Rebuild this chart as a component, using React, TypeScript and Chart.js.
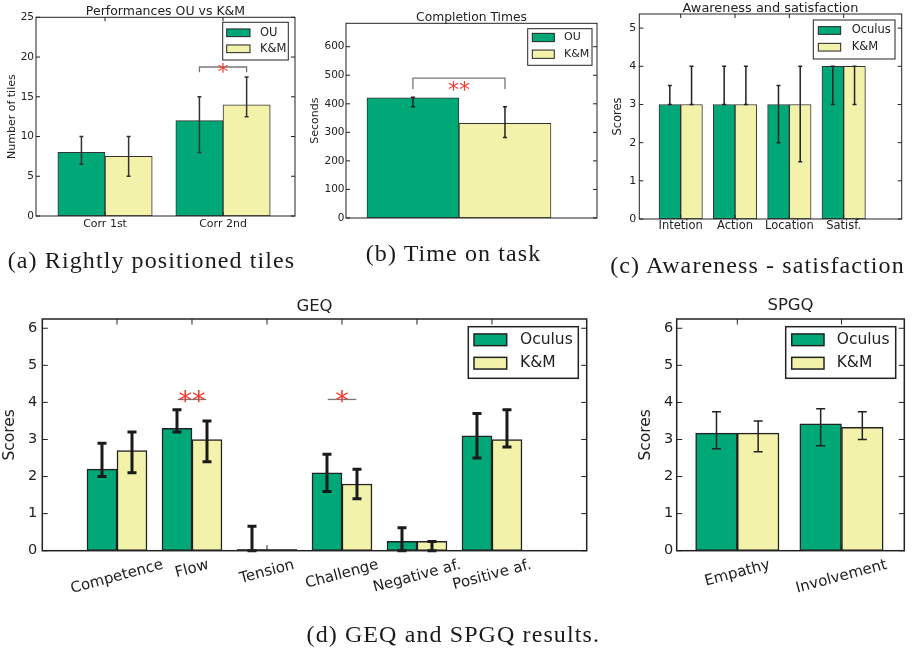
import React, { useEffect, useRef } from "react";
import { Chart, registerables } from "chart.js";
Chart.register(...registerables);

// ---------------- DATA ----------------
// (a) Rightly positioned tiles
const tilesCategories = ["Corr 1st", "Corr 2nd"];
const tilesOU = [8, 12];
const tilesOULow = [6.5, 8];
const tilesOUHigh = [10, 15];
const tilesKM = [7.5, 14];
const tilesKMLow = [5, 12.5];
const tilesKMHigh = [10, 17.5];
const tilesYTicks = [0, 5, 10, 15, 20, 25];

// (b) Time on task
const timeCategories = [""];
const timeOU = [421];
const timeOULow = [390];
const timeOUHigh = [423];
const timeKM = [332];
const timeKMLow = [282];
const timeKMHigh = [390];
const timeYTicks = [0, 100, 200, 300, 400, 500, 600];

// (c) Awareness - satisfaction
const awareCategories = ["Intetion", "Action", "Location", "Satisf."];
const awareOculus = [3, 3, 3, 4];
const awareOculusLow = [3, 3, 2, 3];
const awareOculusHigh = [3.5, 4, 3.5, 4];
const awareKM = [3, 3, 3, 4];
const awareKMLow = [3, 3, 1.5, 3];
const awareKMHigh = [4, 4, 4, 4];
const awareYTicks = [0, 1, 2, 3, 4, 5];

// (d) GEQ
const geqCategories = ["Competence", "Flow", "Tension", "Challenge", "Negative af.", "Positive af."];
const geqOculus = [2.2, 3.3, 0, 2.1, 0.25, 3.1];
const geqOculusLow = [2.0, 3.2, 0, 1.6, 0, 2.5];
const geqOculusHigh = [2.9, 3.8, 0.66, 2.6, 0.62, 3.7];
const geqKM = [2.7, 3.0, 0, 1.8, 0.25, 3.0];
const geqKMLow = [2.1, 2.4, 0, 1.4, 0, 2.8];
const geqKMHigh = [3.2, 3.5, 0, 2.2, 0.25, 3.8];
const scoreYTicks = [0, 1, 2, 3, 4, 5, 6];

// (d) SPGQ
const spgqCategories = ["Empathy", "Involvement"];
const spgqOculus = [3.17, 3.42];
const spgqOculusLow = [2.75, 2.83];
const spgqOculusHigh = [3.75, 3.83];
const spgqKM = [3.17, 3.33];
const spgqKMLow = [2.67, 3.0];
const spgqKMHigh = [3.5, 3.75];

const captionTexts = [
  "(a) Rightly positioned tiles",
  "(b) Time on task",
  "(c) Awareness - satisfaction",
  "(d) GEQ and SPGQ results.",
];

// ---------------- STYLE / LAYOUT ----------------
const W = 913;
const H = 654;
const GREEN = "#00a878";
const YELLOW = "#f2f2aa";
const FONT = '"DejaVu Sans", "Bitstream Vera Sans", sans-serif';
const TXT = "#222";
const SIG_RED = "#f03c32";

type Series = { label: string; values: number[]; low: number[]; high: number[]; color: string };
type Sig = { cat: number; text: string; lineY: number; dropY?: number; textY: number; half: number };
type Spec = {
  key: string;
  area: [number, number, number, number];
  categories: string[];
  series: Series[];
  xRange: [number, number];
  barWidth: number;
  yMax: number;
  yTicks: number[];
  title: string;
  titleSize: number;
  titleBaseline: number;
  yTitle: string;
  yTitleSize: number;
  yTitleX: number;
  tickSize: number;
  tickPad: number;
  xLabelSize: number;
  xLabelRotation: number;
  xLabelOffset: number;
  xTicks: boolean;
  tickLen: number;
  frameWidth: number;
  barBorder: number;
  barBorderColor: string;
  err: { width: number; cap: number; color: string };
  legend: { box: [number, number, number, number]; swatch: [number, number]; swatchH: number; rows: number[]; textX: number; size: number; lineWidth: number };
  sigs: Sig[];
  sigSize: number;
};

const specs: Spec[] = [
  {
    key: "a",
    area: [36, 17.3, 295, 216],
    categories: tilesCategories,
    series: [
      { label: "OU", values: tilesOU, low: tilesOULow, high: tilesOUHigh, color: GREEN },
      { label: "K&M", values: tilesKM, low: tilesKMLow, high: tilesKMHigh, color: YELLOW },
    ],
    xRange: [-0.585, 1.61],
    barWidth: 0.4,
    yMax: 25,
    yTicks: tilesYTicks,
    title: "Performances OU vs K&M",
    titleSize: 12.5,
    titleBaseline: 14.5,
    yTitle: "Number of tiles",
    yTitleSize: 11,
    yTitleX: 12,
    tickSize: 10.5,
    tickPad: 2,
    xLabelSize: 11,
    xLabelRotation: 0,
    xLabelOffset: 8,
    xTicks: true,
    tickLen: 4,
    frameWidth: 1,
    barBorder: 1,
    barBorderColor: "#333",
    err: { width: 1.5, cap: 4, color: "#333" },
    legend: { box: [222.7, 22.3, 288.3, 60], swatch: [226.7, 250], swatchH: 7.7, rows: [32.8, 48.8], textX: 260, size: 11.5, lineWidth: 1 },
    sigs: [{ cat: 1, text: "*", lineY: 18.75, dropY: 18.1, textY: 18.7, half: 0.2 }],
    sigSize: 22,
  },
  {
    key: "b",
    area: [346, 23.3, 597, 218],
    categories: timeCategories,
    series: [
      { label: "OU", values: timeOU, low: timeOULow, high: timeOUHigh, color: GREEN },
      { label: "K&M", values: timeKM, low: timeKMLow, high: timeKMHigh, color: YELLOW },
    ],
    xRange: [-0.491, 0.6],
    barWidth: 0.4,
    yMax: 682,
    yTicks: timeYTicks,
    title: "Completion Times",
    titleSize: 12.3,
    titleBaseline: 20.7,
    yTitle: "Seconds",
    yTitleSize: 11,
    yTitleX: 315,
    tickSize: 10.5,
    tickPad: 1.5,
    xLabelSize: 11,
    xLabelRotation: 0,
    xLabelOffset: 8,
    xTicks: false,
    tickLen: 4,
    frameWidth: 1,
    barBorder: 1,
    barBorderColor: "#333",
    err: { width: 1.5, cap: 4, color: "#222" },
    legend: { box: [527.7, 28.7, 592, 65.3], swatch: [532.3, 554.3], swatchH: 8.3, rows: [37.5, 54.2], textX: 564, size: 11, lineWidth: 1 },
    sigs: [{ cat: 0, text: "**", lineY: 490, dropY: 452, textY: 467, half: 0.2 }],
    sigSize: 22,
  },
  {
    key: "c",
    area: [639.3, 14, 901.7, 219],
    categories: awareCategories,
    series: [
      { label: "Oculus", values: awareOculus, low: awareOculusLow, high: awareOculusHigh, color: GREEN },
      { label: "K&M", values: awareKM, low: awareKMLow, high: awareKMHigh, color: YELLOW },
    ],
    xRange: [-0.762, 4.068],
    barWidth: 0.4,
    yMax: 5.37,
    yTicks: awareYTicks,
    title: "Awareness and satisfaction",
    titleSize: 12.9,
    titleBaseline: 11.7,
    yTitle: "Scores",
    yTitleSize: 11.5,
    yTitleX: 618,
    tickSize: 11,
    tickPad: 3,
    xLabelSize: 11.5,
    xLabelRotation: 0,
    xLabelOffset: 7,
    xTicks: true,
    tickLen: 4,
    frameWidth: 1,
    barBorder: 1,
    barBorderColor: "#333",
    err: { width: 1.5, cap: 4, color: "#222" },
    legend: { box: [813.3, 20, 895, 59], swatch: [818.3, 840.7], swatchH: 7.7, rows: [30.5, 47.2], textX: 851.7, size: 11.5, lineWidth: 1 },
    sigs: [],
    sigSize: 22,
  },
  {
    key: "geq",
    area: [42.3, 319, 586.7, 550.7],
    categories: geqCategories,
    series: [
      { label: "Oculus", values: geqOculus, low: geqOculusLow, high: geqOculusHigh, color: GREEN },
      { label: "K&M", values: geqKM, low: geqKMLow, high: geqKMHigh, color: YELLOW },
    ],
    xRange: [-0.996, 6.263],
    barWidth: 0.4,
    yMax: 6.25,
    yTicks: scoreYTicks,
    title: "GEQ",
    titleSize: 16.5,
    titleBaseline: 311,
    yTitle: "Scores",
    yTitleSize: 15.5,
    yTitleX: 10.3,
    tickSize: 14.5,
    tickPad: 5,
    xLabelSize: 15,
    xLabelRotation: 15,
    xLabelOffset: 5.5,
    xTicks: true,
    tickLen: 5.5,
    frameWidth: 1.5,
    barBorder: 1.5,
    barBorderColor: "#222",
    err: { width: 3, cap: 9, color: "#1a1a1a" },
    legend: { box: [468.3, 326.7, 578.3, 378.3], swatch: [474, 506.7], swatchH: 11.7, rows: [339.8, 363.2], textX: 520, size: 15.5, lineWidth: 1.5 },
    sigs: [
      { cat: 1, text: "**", lineY: 4.08, textY: 4.2, half: 0.19 },
      { cat: 3, text: "*", lineY: 4.08, textY: 4.2, half: 0.19 },
    ],
    sigSize: 27,
  },
  {
    key: "spgq",
    area: [676.7, 319, 904.3, 550.7],
    categories: spgqCategories,
    series: [
      { label: "Oculus", values: spgqOculus, low: spgqOculusLow, high: spgqOculusHigh, color: GREEN },
      { label: "K&M", values: spgqKM, low: spgqKMLow, high: spgqKMHigh, color: YELLOW },
    ],
    xRange: [-0.582, 1.603],
    barWidth: 0.4,
    yMax: 6.25,
    yTicks: scoreYTicks,
    title: "SPGQ",
    titleSize: 16.5,
    titleBaseline: 310,
    yTitle: "Scores",
    yTitleSize: 15.5,
    yTitleX: 646,
    tickSize: 14.5,
    tickPad: 3.5,
    xLabelSize: 15,
    xLabelRotation: 15,
    xLabelOffset: 5.5,
    xTicks: true,
    tickLen: 5.5,
    frameWidth: 1.5,
    barBorder: 1.5,
    barBorderColor: "#222",
    err: { width: 1.5, cap: 9, color: "#222" },
    legend: { box: [785.7, 326.7, 895.7, 378.3], swatch: [791.7, 824], swatchH: 11.7, rows: [339.8, 363.2], textX: 836.7, size: 15.5, lineWidth: 1.5 },
    sigs: [],
    sigSize: 22,
  },
];

const captionLayout = [
  { cx: 151.5, baseline: 268 },
  { cx: 453.5, baseline: 261 },
  { cx: 757.5, baseline: 273 },
  { cx: 453.3, baseline: 642 },
];
const CAPTION_SIZE = 24;

// ---------------- DRAWING ----------------
function seriesOffset(spec: Spec, si: number) {
  return (si === 0 ? -1 : 1) * spec.barWidth / 2;
}

function makePlugin(spec: Spec) {
  return {
    id: "custom_" + spec.key,
    afterDatasetsDraw(chart: any) {
      const { ctx } = chart;
      const xs = chart.scales.x;
      const ys = chart.scales.y;
      ctx.save();
      ctx.strokeStyle = spec.err.color;
      ctx.lineWidth = spec.err.width;
      spec.series.forEach((s, si) => {
        const off = seriesOffset(spec, si);
        s.values.forEach((_v, i) => {
          const lo = s.low[i];
          const hi = s.high[i];
          if (!(hi > lo)) return;
          const x = xs.getPixelForValue(i + off);
          const y1 = ys.getPixelForValue(lo);
          const y2 = ys.getPixelForValue(hi);
          const c = spec.err.cap / 2;
          ctx.beginPath();
          ctx.moveTo(x, y1);
          ctx.lineTo(x, y2);
          ctx.moveTo(x - c, y1);
          ctx.lineTo(x + c, y1);
          ctx.moveTo(x - c, y2);
          ctx.lineTo(x + c, y2);
          ctx.stroke();
        });
      });
      ctx.restore();
    },
    afterDraw(chart: any) {
      const { ctx } = chart;
      const a = chart.chartArea;
      const xs = chart.scales.x;
      const ys = chart.scales.y;
      ctx.save();
      // zero-height bars still show their outline along the axis
      ctx.strokeStyle = spec.barBorderColor;
      ctx.lineWidth = spec.barBorder;
      spec.series.forEach((s, si) => {
        const off = seriesOffset(spec, si);
        s.values.forEach((v, i) => {
          if (v !== 0) return;
          const x1 = xs.getPixelForValue(i + off - spec.barWidth / 2);
          const x2 = xs.getPixelForValue(i + off + spec.barWidth / 2);
          const y = ys.getPixelForValue(0) - spec.barBorder / 2;
          ctx.beginPath();
          ctx.moveTo(x1, y);
          ctx.lineTo(x2, y);
          ctx.stroke();
        });
      });
      // frame
      ctx.strokeStyle = "#222";
      ctx.lineWidth = spec.frameWidth;
      ctx.strokeRect(a.left, a.top, a.right - a.left, a.bottom - a.top);
      // ticks (inward)
      ctx.lineWidth = 1;
      ctx.beginPath();
      spec.yTicks.forEach((v) => {
        const y = ys.getPixelForValue(v);
        ctx.moveTo(a.left, y);
        ctx.lineTo(a.left + spec.tickLen, y);
        ctx.moveTo(a.right, y);
        ctx.lineTo(a.right - spec.tickLen, y);
      });
      if (spec.xTicks) {
        spec.categories.forEach((_c, i) => {
          const x = xs.getPixelForValue(i);
          ctx.moveTo(x, a.top);
          ctx.lineTo(x, a.top + spec.tickLen);
          ctx.moveTo(x, a.bottom);
          ctx.lineTo(x, a.bottom - spec.tickLen);
        });
      }
      ctx.stroke();

      // x labels
      ctx.fillStyle = TXT;
      ctx.font = `${spec.xLabelSize}px ${FONT}`;
      spec.categories.forEach((c, i) => {
        if (!c) return;
        const x = xs.getPixelForValue(i);
        if (spec.xLabelRotation === 0) {
          ctx.textAlign = "center";
          ctx.textBaseline = "middle";
          ctx.fillText(c, x, a.bottom + spec.xLabelOffset);
        } else {
          const th = (spec.xLabelRotation * Math.PI) / 180;
          const w = ctx.measureText(c).width;
          const h = spec.xLabelSize * 1.17;
          const bh = w * Math.sin(th) + h * Math.cos(th);
          ctx.save();
          ctx.translate(x, a.bottom + spec.xLabelOffset + bh / 2);
          ctx.rotate(-th);
          ctx.textAlign = "center";
          ctx.textBaseline = "middle";
          ctx.fillText(c, 0, 0);
          ctx.restore();
        }
      });

      // title
      ctx.font = `${spec.titleSize}px ${FONT}`;
      ctx.textAlign = "center";
      ctx.textBaseline = "alphabetic";
      ctx.fillText(spec.title, (a.left + a.right) / 2, spec.titleBaseline);

      // y title
      ctx.save();
      ctx.font = `${spec.yTitleSize}px ${FONT}`;
      ctx.translate(spec.yTitleX, (a.top + a.bottom) / 2);
      ctx.rotate(-Math.PI / 2);
      ctx.textAlign = "center";
      ctx.textBaseline = "middle";
      ctx.fillText(spec.yTitle, 0, 0);
      ctx.restore();

      // significance markers
      spec.sigs.forEach((s) => {
        const x1 = xs.getPixelForValue(s.cat - s.half);
        const x2 = xs.getPixelForValue(s.cat + s.half);
        const yl = ys.getPixelForValue(s.lineY);
        ctx.strokeStyle = "#777";
        ctx.lineWidth = 1.3;
        ctx.beginPath();
        if (s.dropY !== undefined) {
          const yd = ys.getPixelForValue(s.dropY);
          ctx.moveTo(x1, yd);
          ctx.lineTo(x1, yl);
          ctx.lineTo(x2, yl);
          ctx.lineTo(x2, yd);
        } else {
          ctx.moveTo(x1, yl);
          ctx.lineTo(x2, yl);
        }
        ctx.stroke();
        ctx.fillStyle = SIG_RED;
        ctx.font = `${spec.sigSize}px ${FONT}`;
        ctx.textAlign = "center";
        ctx.textBaseline = "alphabetic";
        ctx.fillText(s.text, (x1 + x2) / 2, ys.getPixelForValue(s.textY) + spec.sigSize * 0.55);
      });

      // legend
      const L = spec.legend;
      ctx.fillStyle = "#fff";
      ctx.fillRect(L.box[0], L.box[1], L.box[2] - L.box[0], L.box[3] - L.box[1]);
      ctx.strokeStyle = "#222";
      ctx.lineWidth = L.lineWidth;
      ctx.strokeRect(L.box[0], L.box[1], L.box[2] - L.box[0], L.box[3] - L.box[1]);
      spec.series.forEach((s, si) => {
        const cy = L.rows[si];
        ctx.fillStyle = s.color;
        ctx.fillRect(L.swatch[0], cy - L.swatchH / 2, L.swatch[1] - L.swatch[0], L.swatchH);
        ctx.strokeStyle = "#222";
        ctx.lineWidth = L.lineWidth;
        ctx.strokeRect(L.swatch[0], cy - L.swatchH / 2, L.swatch[1] - L.swatch[0], L.swatchH);
        ctx.fillStyle = TXT;
        ctx.font = `${L.size}px ${FONT}`;
        ctx.textAlign = "left";
        ctx.textBaseline = "middle";
        ctx.fillText(s.label, L.textX, cy);
      });
      ctx.restore();
    },
  };
}

function buildConfig(spec: Spec): any {
  const [aL, aT, aR, aB] = spec.area;
  return {
    type: "bar",
    data: {
      datasets: spec.series.map((s, si) => ({
        label: s.label,
        data: s.values.map((v, i) => ({ x: i + seriesOffset(spec, si), y: v })),
        backgroundColor: s.color,
        borderColor: spec.barBorderColor,
        borderWidth: spec.barBorder,
        borderSkipped: false,
        grouped: false,
        categoryPercentage: 1,
        barPercentage: 1,
      })),
    },
    options: {
      responsive: false,
      maintainAspectRatio: false,
      animation: false,
      devicePixelRatio: 1,
      events: [],
      layout: { padding: { left: 0, top: aT, right: W - aR, bottom: 0 } },
      plugins: { legend: { display: false }, title: { display: false }, tooltip: { enabled: false } },
      scales: {
        x: {
          type: "linear",
          min: spec.xRange[0],
          max: spec.xRange[1],
          offset: false,
          grid: { display: false, drawTicks: false },
          border: { display: false },
          ticks: { display: false },
          afterBuildTicks: (sc: any) => {
            sc.ticks = spec.categories.map((_c, i) => ({ value: i }));
          },
          afterFit: (sc: any) => {
            sc.height = H - aB;
          },
        },
        y: {
          type: "linear",
          min: 0,
          max: spec.yMax,
          grid: { display: false, drawTicks: false },
          border: { display: false },
          ticks: {
            font: { family: FONT, size: spec.tickSize },
            color: TXT,
            padding: spec.tickPad,
            autoSkip: false,
            callback: (v: any) => String(v),
          },
          afterBuildTicks: (sc: any) => {
            sc.ticks = spec.yTicks.map((v) => ({ value: v }));
          },
          afterFit: (sc: any) => {
            sc.width = aL;
          },
        },
      },
    },
    plugins: [makePlugin(spec)],
  };
}

function ChartCanvas({ spec }: { spec: Spec }) {
  const ref = useRef<HTMLCanvasElement | null>(null);
  useEffect(() => {
    if (!ref.current) return;
    const chart = new Chart(ref.current, buildConfig(spec));
    return () => chart.destroy();
  }, [spec]);
  return (
    <canvas
      ref={ref}
      width={W}
      height={H}
      style={{ position: "absolute", left: 0, top: 0, width: W, height: H }}
    />
  );
}

export default function App() {
  return (
    <div
      style={{
        position: "absolute",
        left: 0,
        top: 0,
        width: W,
        height: H,
        background: "#fff",
        overflow: "hidden",
      }}
    >
      {specs.map((s) => (
        <ChartCanvas key={s.key} spec={s} />
      ))}
      {captionTexts.map((t, i) => (
        <div
          key={i}
          style={{
            position: "absolute",
            left: captionLayout[i].cx - 250,
            width: 500,
            top: captionLayout[i].baseline - CAPTION_SIZE * 0.837,
            textAlign: "center",
            fontFamily: '"Liberation Serif", "Times New Roman", serif',
            fontSize: CAPTION_SIZE + "px",
            lineHeight: CAPTION_SIZE + "px",
            letterSpacing: "1.1px",
            color: "#1a1a1a",
            whiteSpace: "nowrap",
          }}
        >
          {t}
        </div>
      ))}
    </div>
  );
}
